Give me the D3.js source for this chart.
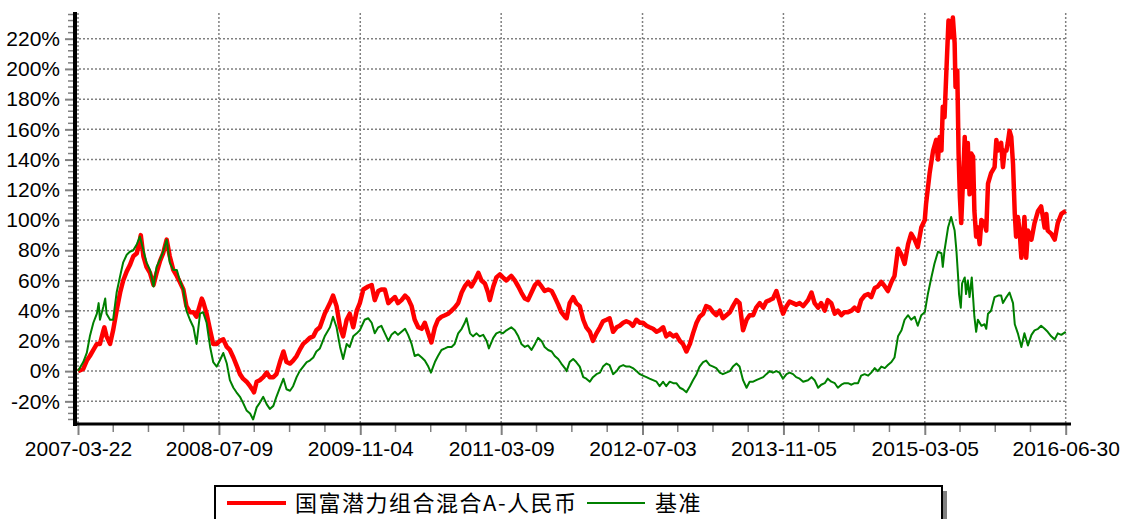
<!DOCTYPE html>
<html>
<head>
<meta charset="utf-8">
<script src="https://cdn.jsdelivr.net/npm/d3@7"></script>
<style>
  body { margin: 0; background: #fff; }
  svg { display: block; }
</style>
</head>
<body>
<svg id="chart" width="1122" height="519"></svg>
<script>
// Libellés de l'axe X (jours de bourse, index 0 -> 2250)
var xTickLabels = ["2007-03-22", "2008-07-09", "2009-11-04", "2011-03-09",
                   "2012-07-03", "2013-11-05", "2015-03-05", "2016-06-30"];
var xTickIndex = [0, 321, 643, 964, 1286, 1607, 1929, 2250];
var yTicks = [-20, 0, 20, 40, 60, 80, 100, 120, 140, 160, 180, 200, 220];

var seriesNames = ["国富潜力组合混合A-人民币", "基准"];

// Rendement cumulé du fonds (%) : [index jour, valeur]
var fund = [
  [0,0],[12,1.5],[20,7],[27,10],[35,14],[43,18],[50,18],[58,27],[60,29],[65,23],[73,18],[80,27],
  [88,40],[96,52],[103,60],[111,66],[118,70],[126,76],[134,78],[141,87],[143,90],[149,76],[156,69],
  [164,65],[172,57],[179,65],[187,73],[194,78],[202,87],[209,76],[217,67],[225,63],[232,59],[240,54],
  [247,43],[255,39],[263,39],[270,36],[278,44],[282,48],[285,46],[293,38],[301,27],[308,18],[316,18],
  [323,20],[331,21],[339,16],[346,14],[354,9],[361,4],[369,-2],[376,-5],[384,-7],[392,-10],[399,-13],
  [401,-14],[407,-7],[414,-6],[422,-4],[430,-1],[437,-4],[445,-4],[452,-2],[460,6],[468,13],[475,6],
  [483,5],[490,7],[498,10],[505,14],[513,18],[521,20],[528,22],[536,23],[543,27],
  [551,29],[562,38],[574,45],[581,50],[589,43],[597,29],[604,23],[612,34],[619,38],[627,29],[635,40],
  [642,45],[650,54],[661,56],[669,57],[676,47],[684,53],[691,54],[699,54],[707,45],[714,47],[722,49],
  [729,45],[737,47],[745,50],[752,48],[760,43],[767,34],[775,29],[783,28],[790,32],[798,25],[805,19],
  [813,29],[820,34],[828,36],[836,37],[843,38],[851,40],[858,42],[866,45],[874,52],[881,56],[889,59],
  [896,56],[904,60],[912,65],[919,60],[927,58],[934,52],[938,47],[946,56],[953,62],[961,64],[968,62],
  [976,60],[987,63],[995,60],[1003,56],[1010,52],[1018,48],[1025,47],[1033,52],[1041,57],[1048,59],
  [1056,56],[1063,53],[1071,54],[1079,53],[1086,49],[1094,44],[1101,39],[1109,36],
  [1113,35],[1120,45],[1128,49],[1135,45],[1143,43],[1151,34],[1158,29],[1166,26],[1173,20],[1181,25],
  [1189,29],[1196,33],[1204,34],[1211,35],[1219,26],[1227,29],[1234,30],[1242,32],[1249,33],[1257,32],
  [1264,30],[1272,34],[1280,32],[1287,32],[1295,30],[1302,29],[1310,28],[1318,26],[1325,27],[1333,29],
  [1340,23],[1348,25],[1356,23],[1363,24],[1371,20],[1378,18],[1386,13],[1394,18],[1401,25],[1409,32],
  [1416,36],[1424,38],[1431,43],[1439,42],[1447,39],[1454,37],[1462,40],[1469,35],[1477,37],[1485,39],
  [1492,43],[1500,47],[1507,45],[1515,27],[1523,34],[1530,37],[1538,37],[1545,42],[1553,45],[1561,42],
  [1568,46],[1576,47],[1583,48],[1591,53],[1598,46],[1606,38],[1614,43],[1621,46],[1629,45],[1636,44],
  [1644,45],[1652,43],
  [1663,47],[1671,52],[1678,45],[1686,42],[1693,45],[1701,40],[1708,47],[1716,45],[1724,38],[1731,40],
  [1739,37],[1746,39],[1754,39],[1762,40],[1769,42],[1777,40],[1784,47],[1792,50],[1800,51],[1807,49],
  [1815,55],[1822,56],[1830,59],[1838,56],[1845,53],[1853,59],[1860,63],[1868,81],[1876,77],[1883,71],
  [1891,84],[1898,91],[1906,87],[1913,82],[1921,95],[1929,100],[1932,111],[1940,131],[1948,146],
  [1955,153],[1959,140],[1963,155],[1967,146],[1970,175],[1974,168],[1978,197],[1983,232],[1988,221],
  [1993,234],[1997,217],[1999,188],[2003,199],[2006,144],[2009,115],[2012,98],[2016,126],[2020,155],
  [2023,122],[2027,151],[2031,117],[2035,144],[2039,142],[2042,106],[2046,89],[2050,95],[2054,84],
  [2058,100],[2065,98],[2069,93],[2073,124],[2080,131],[2088,135],[2092,153],[2096,146],[2103,151],
  [2107,135],[2111,146],[2115,146],[2118,151],[2122,159],[2126,155],[2130,137],[2134,104],[2137,89],
  [2141,102],[2145,93],[2149,75],[2153,87],[2156,102],[2160,75],[2164,93],[2172,87],[2179,98],[2187,106],
  [2194,109],[2198,102],[2202,95],[2206,104],[2209,93],[2217,91],[2225,87],[2232,98],[2240,104],[2250,106]
];

// Rendement cumulé du benchmark (%)
var bench = [
  [0,0],[12,6],[20,12],[27,23],[35,32],[43,38],[47,45],[50,34],[58,43],[62,48],[65,38],[73,34],[80,34],
  [88,52],[96,63],[103,72],[111,77],[118,79],[126,80],[134,84],[141,89],[149,80],[156,72],[164,67],
  [172,56],[179,69],[187,74],[194,79],[202,87],[209,72],[217,67],[225,67],[232,60],[240,54],[247,40],
  [255,34],[263,29],[270,18],[278,38],[285,39],[293,32],[301,16],[308,6],[316,3],[323,7],[331,12],
  [339,5],[346,-6],[354,-11],[361,-14],[369,-17],[376,-21],[384,-26],[392,-28],[399,-32],[407,-24],
  [414,-21],[422,-17],[430,-22],[437,-25],[445,-23],[452,-17],[460,-11],[468,-5],[475,-12],[483,-13],
  [490,-10],[498,-4],[505,0],[513,3],[521,6],[528,7],[536,9],[543,13],
  [551,15],[562,23],[574,29],[581,36],[589,29],[597,16],[604,8],[612,18],[619,16],[627,23],[635,25],
  [642,27],[653,34],[661,35],[669,32],[676,25],[684,29],[691,30],[699,25],[707,20],[714,24],[722,26],
  [729,24],[737,26],[745,28],[752,24],[760,18],[767,10],[775,11],[783,9],[790,7],[798,3],[804,-1],
  [813,6],[820,10],[828,14],[836,15],[843,16],[851,16],[858,18],[866,25],[874,28],[881,32],[885,35],
  [893,25],[900,23],[908,25],[915,23],[923,24],[931,20],[936,15],[946,22],[953,25],[961,26],[968,25],
  [976,27],[987,29],[995,27],[1003,23],[1010,18],[1018,16],[1025,17],[1033,14],[1041,18],[1048,22],
  [1056,20],[1063,16],[1071,14],[1079,13],[1086,10],[1094,8],[1101,5],[1109,2],
  [1113,0],[1120,6],[1128,8],[1135,6],[1143,3],[1151,-4],[1158,-5],[1166,-7],[1173,-4],[1181,-2],
  [1189,-1],[1196,3],[1204,5],[1211,4],[1219,-2],[1227,0],[1234,3],[1242,4],[1249,3],[1257,3],
  [1264,2],[1272,0],[1280,-2],[1287,-3],[1295,-4],[1302,-5],[1310,-6],[1318,-7],[1325,-10],[1333,-7],
  [1340,-10],[1348,-7],[1356,-8],[1363,-8],[1371,-11],[1378,-12],[1386,-14],[1394,-10],[1401,-6],
  [1409,-2],[1416,3],[1424,6],[1431,7],[1439,4],[1447,3],[1454,2],[1462,-1],[1469,-2],[1477,-1],
  [1485,0],[1492,3],[1500,5],[1507,3],[1515,-6],[1523,-11],[1530,-7],[1538,-7],[1545,-6],[1553,-5],
  [1561,-4],[1568,-2],[1576,0],[1583,-1],[1591,0],[1598,-1],[1606,-5],[1614,-2],[1621,-1],[1629,-2],
  [1636,-4],[1644,-5],[1652,-7],
  [1663,-6],[1671,-4],[1678,-6],[1686,-11],[1693,-9],[1701,-8],[1708,-5],[1716,-7],[1724,-8],[1731,-11],
  [1739,-9],[1746,-8],[1754,-8],[1762,-9],[1769,-8],[1777,-8],[1784,-3],[1792,-2],[1800,-3],[1807,-1],
  [1815,2],[1822,0],[1830,3],[1838,2],[1845,4],[1853,6],[1860,9],[1868,23],[1876,27],[1883,34],
  [1891,37],[1898,34],[1906,36],[1913,30],[1921,37],[1929,39],[1936,51],[1944,62],[1951,71],[1959,79],
  [1967,78],[1970,69],[1974,80],[1982,95],[1989,102],[1997,93],[2001,80],[2005,62],[2007,51],[2011,42],
  [2014,58],[2020,62],[2023,51],[2027,60],[2031,49],[2036,62],[2042,36],[2046,26],[2050,34],[2058,30],
  [2065,31],[2069,28],[2073,38],[2080,40],[2088,49],[2096,50],[2103,50],[2107,45],[2115,49],[2122,52],
  [2130,45],[2134,31],[2141,25],[2149,16],[2156,25],[2164,17],[2172,24],[2179,27],[2187,28],[2194,30],
  [2202,28],[2209,26],[2217,23],[2225,21],[2232,25],[2240,24],[2250,26]
];

var svg = d3.select("#chart");
var font = "Arial, 'Liberation Sans', sans-serif";

var x = d3.scaleLinear().domain([0, 2250]).range([78, 1065.7]);
var y = d3.scaleLinear().domain([-35, 237]).range([424, 13]);

// Grille pointillée
var grid = svg.append("g");
grid.selectAll(".hgrid")
    .data(yTicks)
    .enter()
    .append("line")
    .attr("x1", 75).attr("x2", 1066)
    .attr("y1", d => y(d)).attr("y2", d => y(d))
    .attr("stroke", "#808080").attr("stroke-width", 1.5)
    .attr("stroke-dasharray", "2,2");
grid.selectAll(".vgrid")
    .data(xTickIndex)
    .enter()
    .append("line")
    .attr("x1", d => x(d)).attr("x2", d => x(d))
    .attr("y1", 13).attr("y2", 424)
    .attr("stroke", "#808080").attr("stroke-width", 1.5)
    .attr("stroke-dasharray", "2,2");

// Courbes : fonds en rouge, benchmark en vert par-dessus
var line = d3.line()
    .x(d => x(d[0]))
    .y(d => y(d[1]));

svg.append("path")
    .datum(fund)
    .attr("d", line)
    .attr("fill", "none")
    .attr("stroke", "#ff0000")
    .attr("stroke-width", 4.5)
    .attr("stroke-linejoin", "round");

svg.append("path")
    .datum(bench)
    .attr("d", line)
    .attr("fill", "none")
    .attr("stroke", "#008000")
    .attr("stroke-width", 2)
    .attr("stroke-linejoin", "round");

// Axe Y : petites graduations tous les 4 %
var yMinor = d3.range(-32, 237, 4).filter(d => d % 20 !== 0);
svg.append("g").selectAll("line")
    .data(yMinor)
    .enter()
    .append("line")
    .attr("x1", 68).attr("x2", 75)
    .attr("y1", d => y(d)).attr("y2", d => y(d))
    .attr("stroke", "#808080").attr("stroke-width", 1.5);

var yAxis = d3.axisLeft(y)
    .tickValues(yTicks)
    .tickSize(10)
    .tickPadding(5)
    .tickFormat(d => d + "%");
var gy = svg.append("g").attr("transform", "translate(75,0)").call(yAxis);
gy.select(".domain").remove();
gy.selectAll(".tick line").attr("stroke", "#808080").attr("stroke-width", 2);
gy.selectAll(".tick text")
    .attr("fill", "#000")
    .style("font-family", font)
    .style("font-size", "21px");

// Axe X : 3 petites graduations entre chaque libellé
var xMinor = [];
for (var i = 0; i < xTickIndex.length - 1; i++) {
  var step = (xTickIndex[i + 1] - xTickIndex[i]) / 4;
  for (var k = 1; k < 4; k++) xMinor.push(xTickIndex[i] + step * k);
}
svg.append("g").selectAll("line")
    .data(xMinor)
    .enter()
    .append("line")
    .attr("x1", d => x(d)).attr("x2", d => x(d))
    .attr("y1", 424).attr("y2", 432)
    .attr("stroke", "#808080").attr("stroke-width", 1.5);

var xAxis = d3.axisBottom(x)
    .tickValues(xTickIndex)
    .tickSize(11)
    .tickPadding(6)
    .tickFormat((d, i) => xTickLabels[i]);
var gx = svg.append("g").attr("transform", "translate(0,424)").call(xAxis);
gx.select(".domain").remove();
gx.selectAll(".tick line").attr("stroke", "#808080").attr("stroke-width", 2);
gx.selectAll(".tick text")
    .attr("fill", "#000")
    .style("font-family", font)
    .style("font-size", "21px");

// Lignes d'axes noires épaisses
svg.append("line")
    .attr("x1", 75).attr("x2", 75).attr("y1", 12).attr("y2", 426)
    .attr("stroke", "#000").attr("stroke-width", 4);
svg.append("line")
    .attr("x1", 73).attr("x2", 1071).attr("y1", 424).attr("y2", 424)
    .attr("stroke", "#000").attr("stroke-width", 3);

// Légende
var legend = svg.append("g");
legend.append("rect")
    .attr("x", 220).attr("y", 491).attr("width", 727).attr("height", 60)
    .attr("fill", "#808080");
legend.append("rect")
    .attr("x", 215).attr("y", 486).attr("width", 727).attr("height", 60)
    .attr("fill", "#fff").attr("stroke", "#000").attr("stroke-width", 2);

var legendItems = [
  { name: seriesNames[0], color: "#ff0000", width: 4, x1: 227, x2: 286, tx: 295 },
  { name: seriesNames[1], color: "#008000", width: 2, x1: 587, x2: 645, tx: 655 }
];
legendItems.forEach(function (it) {
  legend.append("line")
      .attr("x1", it.x1).attr("x2", it.x2).attr("y1", 503).attr("y2", 503)
      .attr("stroke", it.color).attr("stroke-width", it.width);
  legend.append("text")
      .attr("x", it.tx).attr("y", 511)
      .style("font-family", "'Noto Sans CJK SC', sans-serif")
      .style("font-size", "22px")
      .style("letter-spacing", "1.5px")
      .attr("fill", "#000")
      .text(it.name);
});
</script>
</body>
</html>
